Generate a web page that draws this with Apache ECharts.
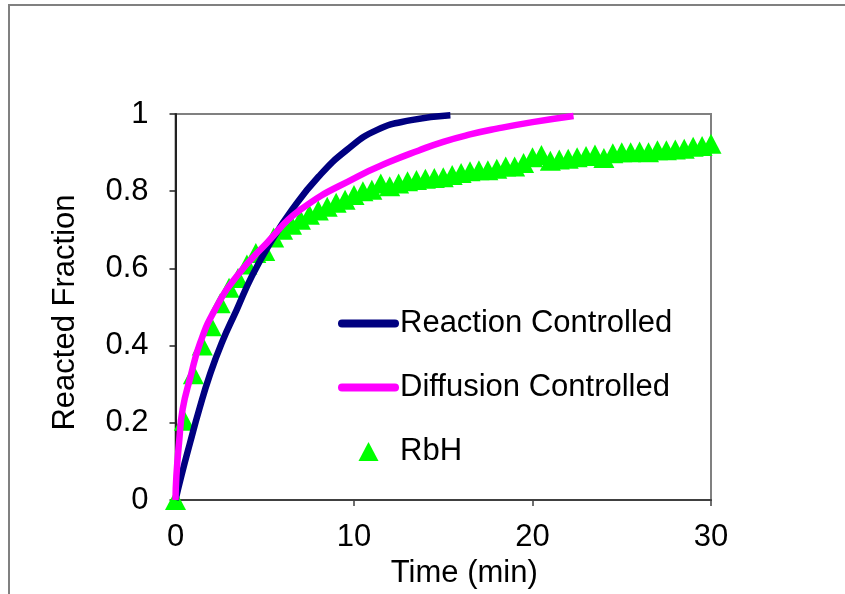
<!DOCTYPE html>
<html>
<head>
<meta charset="utf-8">
<script src="https://cdn.jsdelivr.net/npm/echarts@6/dist/echarts.min.js"></script>
<style>
  html, body { margin: 0; padding: 0; background: #fff; }
  #main { width: 845px; height: 594px; }
</style>
</head>
<body>
<div id="main"></div>
<script>
// values
var reactTime = [0, 0.33, 0.82, 1.33, 1.9, 2.59, 3.44, 4.28, 5.31, 6.53, 8.02, 9.6, 11.3, 13.2, 15.4];
var reactFrac = [0, 0.063, 0.149, 0.235, 0.321, 0.407, 0.494, 0.58, 0.666, 0.752, 0.838, 0.907, 0.959, 0.984, 0.997];

var diffTime = [0, 0.05, 0.2, 0.4, 0.85, 1.38, 2.22, 3.44, 5.12, 7.0, 10.2, 12.0, 13.6, 15.0, 16.5, 18.0, 20.0, 22.3];
var diffFrac = [0, 0.063, 0.149, 0.235, 0.321, 0.407, 0.494, 0.58, 0.666, 0.752, 0.838, 0.876, 0.905, 0.928, 0.947, 0.962, 0.979, 0.995];

var rbhTime = [0, 0.5, 1, 1.5, 2, 2.5, 3, 3.5, 4, 4.5, 5, 5.5, 6, 6.5, 7, 7.5, 8, 8.5, 9, 9.5,
  10, 10.5, 11, 11.5, 12, 12.5, 13, 13.5, 14, 14.5, 15, 15.5, 16, 16.5, 17, 17.5, 18, 18.5, 19, 19.5,
  20, 20.5, 21, 21.5, 22, 22.5, 23, 23.5, 24, 24.5, 25, 25.5, 26, 26.5, 27, 27.5, 28, 28.5, 29, 29.5, 30];
var rbhFrac = [0, 0.205, 0.326, 0.40, 0.45, 0.51, 0.55, 0.575, 0.61, 0.64, 0.645, 0.68, 0.70, 0.713, 0.726, 0.739, 0.75, 0.76, 0.77, 0.778,
  0.79, 0.80, 0.804, 0.82, 0.813, 0.82, 0.826, 0.829, 0.832, 0.834, 0.836, 0.842, 0.847, 0.852, 0.854, 0.854, 0.858, 0.864, 0.864, 0.873,
  0.888, 0.894, 0.879, 0.882, 0.884, 0.888, 0.891, 0.895, 0.886, 0.898, 0.901, 0.901, 0.903, 0.901, 0.906, 0.906, 0.908, 0.910, 0.915, 0.917, 0.923];

var seriesNames = ['Reaction Controlled', 'Diffusion Controlled', 'RbH'];

function pairs(xs, ys) {
  var out = [];
  for (var i = 0; i < xs.length; i++) {
    out.push([xs[i], ys[i]]);
  }
  return out;
}

var font = "'Liberation Sans', Arial, sans-serif";
var chart = echarts.init(document.getElementById('main'));

var option = {
  animation: false,
  backgroundColor: '#fff',
  textStyle: { fontFamily: font },
  graphic: [{
    type: 'rect',
    shape: { x: 9, y: 5, width: 900, height: 700 },
    style: { fill: 'none', stroke: '#808080', lineWidth: 2 },
    silent: true
  }],
  grid: {
    left: 175.5, right: 134, top: 114, bottom: 93,
    show: true, borderColor: '#808080', borderWidth: 2, backgroundColor: 'transparent'
  },
  legend: {
    orient: 'vertical',
    left: 338, top: 308,
    padding: 0,
    itemWidth: 53, itemHeight: 19, itemGap: 33,
    lineStyle: { width: 8, cap: 'round' },
    textStyle: { fontSize: 31, color: '#000', fontFamily: font },
    data: [
      // line items: keep the line, hide the marker dot
      { name: seriesNames[0], itemStyle: { opacity: 0 } },
      { name: seriesNames[1], itemStyle: { opacity: 0 } },
      { name: seriesNames[2], icon: 'path://M0,-9.5L10,9.5L-10,9.5Z' }
    ]
  },
  xAxis: {
    type: 'value', min: 0, max: 30, interval: 10,
    name: 'Time (min)', nameLocation: 'middle', nameGap: 58,
    nameTextStyle: { fontSize: 31, color: '#000', fontFamily: font, padding: [0, 0, 0, 42] },
    axisLine: { lineStyle: { color: '#404040', width: 2 } },
    axisTick: { show: true, inside: false, length: 6, lineStyle: { color: '#404040', width: 1.5 } },
    axisLabel: { fontSize: 31, color: '#000', margin: 22, fontFamily: font },
    splitLine: { show: false }
  },
  yAxis: {
    type: 'value', min: 0, max: 1, interval: 0.2,
    name: 'Reacted Fraction', nameLocation: 'middle', nameGap: 95,
    nameTextStyle: { fontSize: 31, color: '#000', fontFamily: font, padding: [0, 11, 0, 0] },
    axisLine: { lineStyle: { color: '#222', width: 2 } },
    axisTick: { show: true, inside: false, length: 6, lineStyle: { color: '#222', width: 1.5 } },
    axisLabel: { fontSize: 31, color: '#000', margin: 27, fontFamily: font },
    splitLine: { show: false }
  },
  series: [{
    name: seriesNames[0],
    type: 'line',
    data: pairs(reactTime, reactFrac),
    smooth: true,
    symbol: 'none',
    lineStyle: { color: '#000080', width: 6.5 },
    itemStyle: { color: '#000080' }
  }, {
    name: seriesNames[1],
    type: 'line',
    data: pairs(diffTime, diffFrac),
    smooth: true,
    symbol: 'none',
    lineStyle: { color: '#ff00ff', width: 6.5 },
    itemStyle: { color: '#ff00ff' }
  }, {
    name: seriesNames[2],
    type: 'scatter',
    data: pairs(rbhTime, rbhFrac),
    symbol: 'triangle',
    symbolSize: [21, 20],
    itemStyle: { color: '#00ff00', opacity: 1 }
  }]
};

chart.setOption(option);
</script>
</body>
</html>
